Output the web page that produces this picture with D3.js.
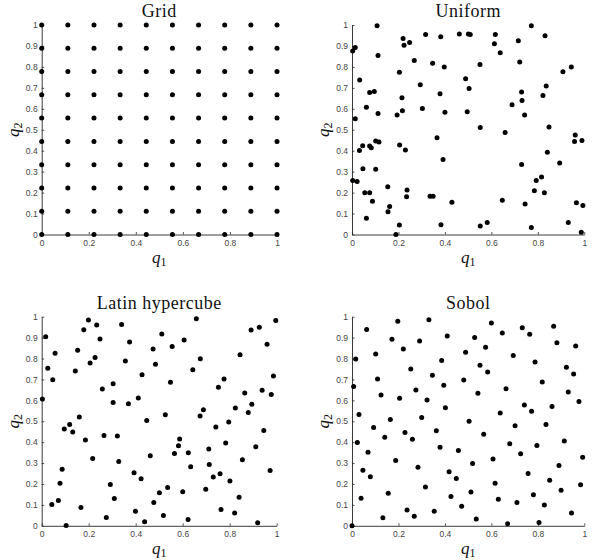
<!DOCTYPE html>
<html>
<head>
<meta charset="utf-8">
<script src="https://cdn.jsdelivr.net/npm/d3@7"></script>
<style>
  html, body { margin: 0; padding: 0; background: #fff; }
  svg { display: block; }
  .tick text { font-family: "Liberation Sans", Arial, sans-serif; font-size: 8.5px; fill: #444; }
  .domain, .tick line { stroke: #262626; }
  .title { font-family: "Liberation Serif", "DejaVu Serif", serif; font-size: 18px; letter-spacing: 0.5px; fill: #111; }
  .axlab { font-family: "Liberation Serif", "DejaVu Serif", serif; font-style: italic; font-size: 17px; fill: #111; }
</style>
</head>
<body>
<svg id="chart" width="594" height="560"></svg>
<script>
// Tick values shared by every panel
const xTicks = [0, 0.2, 0.4, 0.6, 0.8, 1];
const yTicks = [0, 0.1, 0.2, 0.3, 0.4, 0.5, 0.6, 0.7, 0.8, 0.9, 1];

// Full factorial grid: 10 levels per parameter
const gridLevels = [0, 0.1111, 0.2222, 0.3333, 0.4444, 0.5556, 0.6667, 0.7778, 0.8889, 1];

// Uniform random sample
const uniformQ1 = [0.108,0.003,0.014,0.112,0.033,0.076,0.096,0.062,0.014,0.112,0.032,0.046,0.076,0.083,0.102,0.116,0.047,0.102,0.003,0.022,
  0.055,0.076,0.088,0.062,0.154,0.162,0.155,0.189,0.204,0.204,0.220,0.224,0.248,0.215,0.217,0.194,0.205,0.230,0.237,0.235,
  0.268,0.294,0.303,0.317,0.347,0.382,0.397,0.379,0.400,0.366,0.392,0.336,0.349,0.430,0.383,0.462,0.501,0.509,0.489,0.504,
  0.496,0.551,0.552,0.552,0.582,0.617,0.613,0.638,0.689,0.659,0.647,0.716,0.722,0.730,0.732,0.743,0.730,0.745,0.772,0.772,
  0.793,0.785,0.816,0.828,0.831,0.822,0.836,0.848,0.841,0.894,0.908,0.944,0.961,0.958,0.990,0.966,0.994,0.931,0.987];
const uniformQ2 = [0.997,0.876,0.893,0.855,0.737,0.678,0.683,0.607,0.553,0.578,0.401,0.424,0.422,0.414,0.446,0.441,0.314,0.311,0.258,0.253,
  0.199,0.199,0.159,0.078,0.228,0.134,0.108,0.000,0.045,0.774,0.935,0.903,0.916,0.653,0.591,0.570,0.427,0.403,0.213,0.180,
  0.830,0.715,0.602,0.955,0.818,0.944,0.799,0.672,0.584,0.462,0.358,0.183,0.183,0.154,0.046,0.957,0.957,0.955,0.744,0.697,
  0.586,0.812,0.511,0.041,0.057,0.955,0.911,0.868,0.619,0.487,0.164,0.925,0.823,0.680,0.640,0.570,0.334,0.145,0.997,0.033,
  0.258,0.209,0.274,0.199,0.949,0.664,0.709,0.513,0.393,0.341,0.777,0.799,0.475,0.444,0.449,0.151,0.139,0.057,0.011];

// Latin hypercube sample
const lhsQ1 = [0.003,0.017,0.026,0.047,0.057,0.043,0.071,0.078,0.087,0.104,0.096,0.119,0.132,0.143,0.153,0.160,0.167,0.179,0.199,0.186,
  0.206,0.227,0.234,0.248,0.217,0.258,0.265,0.275,0.304,0.304,0.292,0.322,0.328,0.309,0.340,0.356,0.374,0.369,0.393,0.399,
  0.411,0.427,0.423,0.438,0.447,0.462,0.474,0.484,0.477,0.501,0.511,0.526,0.536,0.518,0.555,0.548,0.565,0.582,0.587,0.606,
  0.600,0.624,0.623,0.634,0.643,0.658,0.675,0.674,0.688,0.698,0.711,0.713,0.730,0.741,0.752,0.759,0.763,0.776,0.783,0.796,
  0.801,0.821,0.824,0.840,0.844,0.854,0.864,0.879,0.891,0.894,0.911,0.919,0.926,0.938,0.945,0.959,0.972,0.977,0.986,0.996];
const lhsQ2 = [0.606,0.904,0.753,0.699,0.825,0.102,0.121,0.203,0.271,0.002,0.463,0.485,0.448,0.740,0.839,0.520,0.088,0.938,0.984,0.410,
  0.778,0.805,0.960,0.893,0.322,0.654,0.432,0.040,0.679,0.590,0.198,0.429,0.308,0.131,0.963,0.788,0.879,0.584,0.254,0.069,
  0.611,0.722,0.225,0.019,0.504,0.335,0.845,0.772,0.112,0.158,0.917,0.531,0.183,0.049,0.858,0.686,0.346,0.383,0.415,0.888,
  0.163,0.349,0.030,0.282,0.746,0.990,0.799,0.525,0.555,0.175,0.367,0.293,0.233,0.472,0.663,0.249,0.078,0.702,0.396,0.496,
  0.214,0.061,0.563,0.137,0.818,0.316,0.635,0.542,0.936,0.581,0.378,0.014,0.949,0.648,0.456,0.868,0.265,0.628,0.716,0.982];

// Sobol sequence sample
const sobolQ1 = [0.000,0.007,0.016,0.063,0.023,0.030,0.047,0.039,0.069,0.079,0.093,0.102,0.110,0.125,0.141,0.133,0.156,0.165,0.172,0.197,
  0.188,0.205,0.221,0.228,0.237,0.253,0.260,0.268,0.275,0.284,0.291,0.300,0.316,0.323,0.331,0.346,0.354,0.363,0.379,0.386,
  0.395,0.410,0.402,0.418,0.426,0.449,0.458,0.472,0.481,0.489,0.504,0.519,0.512,0.528,0.535,0.542,0.551,0.567,0.575,0.584,
  0.600,0.607,0.616,0.630,0.638,0.647,0.663,0.670,0.679,0.694,0.702,0.710,0.726,0.733,0.742,0.758,0.765,0.773,0.781,0.788,
  0.796,0.805,0.819,0.828,0.835,0.851,0.861,0.868,0.882,0.891,0.900,0.914,0.923,0.931,0.945,0.954,0.963,0.977,0.984,0.993];
const sobolQ2 = [0.000,0.666,0.798,0.939,0.398,0.532,0.266,0.132,0.352,0.234,0.470,0.822,0.702,0.626,0.424,0.038,0.156,0.508,0.892,0.978,
  0.312,0.610,0.846,0.446,0.076,0.750,0.414,0.046,0.650,0.280,0.884,0.518,0.186,0.602,0.986,0.720,0.070,0.454,0.376,0.790,
  0.672,0.908,0.565,0.258,0.140,0.226,0.360,0.094,0.697,0.830,0.500,0.298,0.162,0.900,0.032,0.634,0.768,0.438,0.854,0.736,
  0.970,0.320,0.204,0.127,0.540,0.922,0.656,0.010,0.392,0.814,0.479,0.111,0.344,0.947,0.578,0.250,0.916,0.548,0.148,0.783,
  0.384,0.016,0.688,0.100,0.484,0.218,0.570,0.954,0.876,0.288,0.170,0.406,0.758,0.640,0.061,0.726,0.860,0.594,0.196,0.328];

// Build the grid design from its levels (every q1 level paired with every q2 level)
const gridQ1 = [], gridQ2 = [];
gridLevels.forEach(a => gridLevels.forEach(b => { gridQ1.push(a); gridQ2.push(b); }));

// Panel placement (pixel extents of each plot area)
const panels = [
  { title: "Grid",            q1: gridQ1,    q2: gridQ2,    left: 41.7, right: 277,   bottom: 234.5, top: 25 },
  { title: "Uniform",         q1: uniformQ1, q2: uniformQ2, left: 352,  right: 584.3, bottom: 234.5, top: 25 },
  { title: "Latin hypercube", q1: lhsQ1,     q2: lhsQ2,     left: 41.7, right: 276.7, bottom: 525.8, top: 316.7 },
  { title: "Sobol",           q1: sobolQ1,   q2: sobolQ2,   left: 352,  right: 584.3, bottom: 525.8, top: 316.7 }
];

const svg = d3.select("#chart");
const fmt = d => String(+d.toFixed(1));

panels.forEach(p => {
  const x = d3.scaleLinear().domain([0, 1]).range([p.left, p.right]);
  const y = d3.scaleLinear().domain([0, 1]).range([p.bottom, p.top]);
  const g = svg.append("g");

  // Bottom axis with inward ticks
  g.append("g")
    .attr("transform", `translate(0,${p.bottom})`)
    .call(d3.axisBottom(x).tickValues(xTicks).tickFormat(fmt)
      .tickSizeInner(-2.5).tickSizeOuter(0).tickPadding(5.5))
    .call(a => a.select(".domain").attr("stroke-width", 0.9))
    .call(a => a.selectAll(".tick line").attr("stroke-width", 0.8));

  // Left axis with inward ticks
  g.append("g")
    .attr("transform", `translate(${p.left},0)`)
    .call(d3.axisLeft(y).tickValues(yTicks).tickFormat(fmt)
      .tickSizeInner(-2.5).tickSizeOuter(0).tickPadding(4))
    .call(a => a.select(".domain").attr("stroke-width", 0.9))
    .call(a => a.selectAll(".tick line").attr("stroke-width", 0.8));

  // Sample points
  g.append("g").selectAll("circle")
    .data(d3.range(p.q1.length))
    .join("circle")
    .attr("cx", i => x(p.q1[i]))
    .attr("cy", i => y(p.q2[i]))
    .attr("r", 2.5)
    .attr("fill", "#000");

  const cx = (p.left + p.right) / 2;
  const cy = (p.top + p.bottom) / 2;

  // Panel title
  g.append("text").attr("class", "title")
    .attr("x", cx).attr("y", p.top - 8)
    .attr("text-anchor", "middle")
    .text(p.title);

  // x label q1
  const xl = g.append("text").attr("class", "axlab")
    .attr("x", cx).attr("y", p.bottom + 28)
    .attr("text-anchor", "middle");
  xl.append("tspan").text("q");
  xl.append("tspan").attr("dy", 3).attr("font-style", "normal").attr("font-size", "12px").text("1");

  // y label q2
  const yl = g.append("text").attr("class", "axlab")
    .attr("transform", `translate(${p.left - 23},${cy}) rotate(-90)`)
    .attr("text-anchor", "middle");
  yl.append("tspan").text("q");
  yl.append("tspan").attr("dy", 3).attr("font-style", "normal").attr("font-size", "12px").text("2");
});
</script>
</body>
</html>
